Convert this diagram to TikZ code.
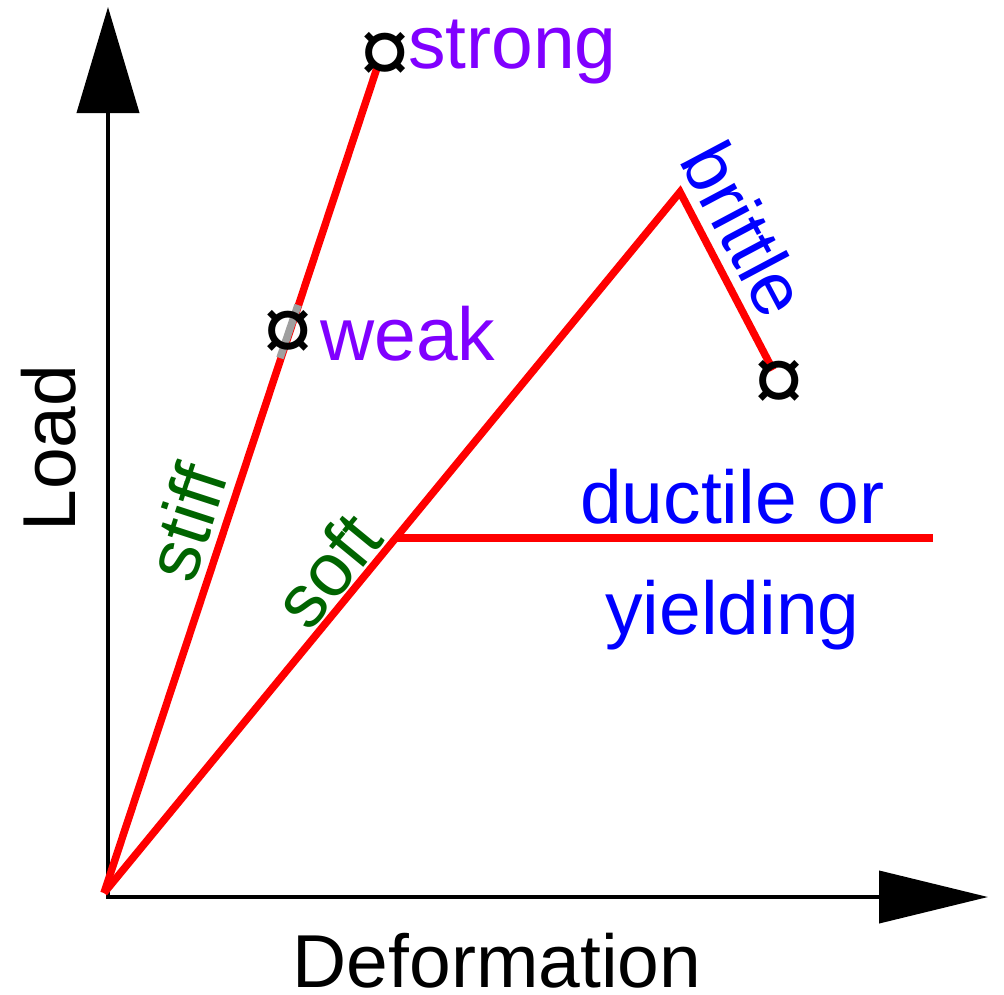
\documentclass[tikz,border=0pt]{standalone}
\usepackage{fontspec}
\setmainfont{Liberation Sans}
\usetikzlibrary{arrows.meta}
\definecolor{lblpurple}{RGB}{128,0,255}
\definecolor{lblblue}{RGB}{0,0,255}
\definecolor{lblgreen}{RGB}{0,100,0}
\definecolor{curvered}{RGB}{255,0,0}
\begin{document}
\begin{tikzpicture}[x=1pt,y=-1pt,
  bigtext/.style={font=\fontsize{75}{88}\selectfont, inner sep=0pt},
  axisline/.style={line width=4pt, black},
  curve/.style={line width=7.5pt, curvered, line join=miter, line cap=butt},
  breakmark/.style={font=\fontsize{92}{100}\selectfont, inner sep=0pt, black},
  purplelbl/.style={bigtext, text=lblpurple},
  bluelbl/.style={bigtext, text=lblblue},
  greenlbl/.style={bigtext, text=lblgreen}]
\useasboundingbox (0,0) rectangle (1004,994);
% axes
\coordinate (corner) at (108,897);
\coordinate (ytip) at (108,7);
\coordinate (xtip) at (988,897);
\draw[axisline, -{Triangle[length=106pt,width=62pt]}] ([yshift=2pt]corner) -- (ytip);
\draw[axisline, -{Triangle[length=109pt,width=52pt]}] ([xshift=-2pt]corner) -- (xtip);
% curve points
\coordinate (O) at (104,893);
\coordinate (S) at (377,68);
\coordinate (P) at (680,192);
\coordinate (B) at (773,370);
\coordinate (Y) at (396,538);
\coordinate (Yend) at (933,538);
\coordinate (W1) at (298,305);
\coordinate (W2) at (280,358);
% curves
\draw[curve] (O) -- (S);
\draw[curve] (O) -- (P) -- (B);
\draw[curve, line width=8pt] (Y) -- (Yend);
\draw[line width=7.5pt, gray!75] (W1) -- (W2);
% break markers
\node[breakmark] (mS) at (385,58) {¤};
\node[breakmark] (mW) at (288,336) {¤};
\node[breakmark] (mB) at (779,386) {¤};
% labels
\node[purplelbl, anchor=base west] (strong) at (408,68) {strong};
\node[purplelbl, anchor=base west] (weak) at (320,360) {weak};
\node[bluelbl, anchor=base west] (ductile) at (580,523) {ductile or};
\node[bluelbl, anchor=base west] (yielding) at (605,634) {yielding};
\node[bluelbl, rotate=-62] (brittle) at (745,229) {brittle};
\node[greenlbl, rotate=72] (stiff) at (186,522) {stiff};
\node[greenlbl, rotate=50.6] (soft) at (327,570) {soft};
\node[bigtext, rotate=90, anchor=base] (load) at (75,448) {Load};
\node[bigtext, anchor=base] (deform) at (497,987) {Deformation};
\end{tikzpicture}
\end{document}
